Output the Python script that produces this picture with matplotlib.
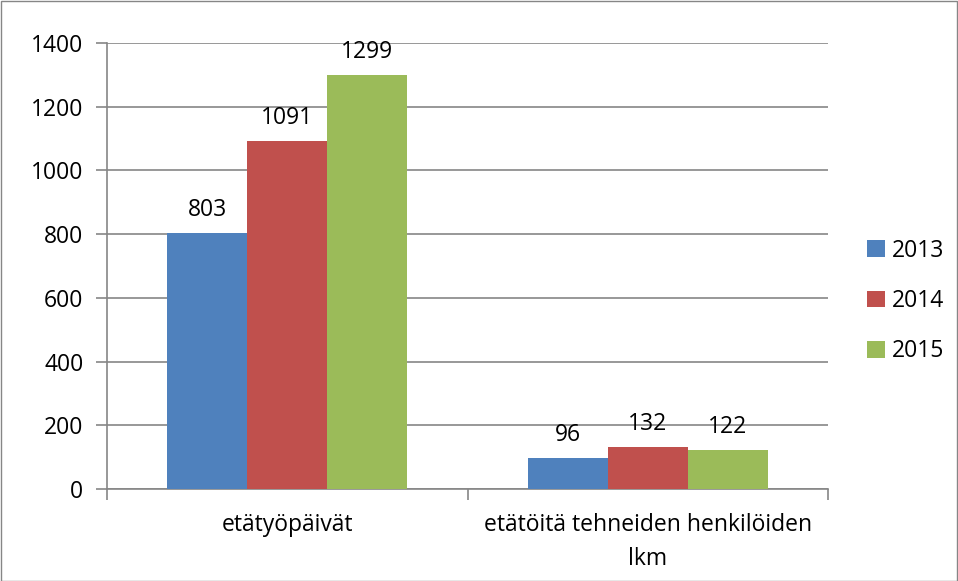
import matplotlib
matplotlib.use("Agg")
import matplotlib.pyplot as plt
import numpy as np
from matplotlib.patches import Rectangle, Patch

categories = ["etätyöpäivät", "etätöitä tehneiden henkilöiden\nlkm"]
years = ["2013", "2014", "2015"]
values = {
    "2013": [803, 96],
    "2014": [1091, 132],
    "2015": [1299, 122],
}
colors = ["#4F81BD", "#C0504D", "#9BBB59"]
yticks = [0, 200, 400, 600, 800, 1000, 1200, 1400]

plt.rcParams['font.family'] = ['Open Sans', 'DejaVu Sans']
FS = 16.5

W, H = 958, 581
fig = plt.figure(figsize=(W / 100, H / 100), dpi=100)
ax = fig.add_axes([107 / W, 1 - 489 / H, (828 - 107) / W, (489 - 43) / H])

grid_c = "#868686"
x = np.arange(len(categories))
bw = 80 / 360
for i, yr in enumerate(years):
    pos = x + (i - 1) * bw
    bars = ax.bar(pos, values[yr], width=bw, color=colors[i], zorder=3, label=yr)
    for b, v in zip(bars, values[yr]):
        ax.annotate(str(v), (b.get_x() + b.get_width() / 2, v),
                    xytext=(0, 12.2), textcoords="offset points",
                    ha="center", va="baseline", fontsize=FS, color="black",
                    zorder=4)

ax.set_xlim(-0.5, 1.5)
ax.set_ylim(0, 1400)
ax.set_yticks(yticks)
ax.set_yticklabels([str(t) for t in yticks], fontsize=FS)
ax.yaxis.grid(True, color=grid_c, linewidth=1.2, zorder=0)
ax.set_axisbelow(True)
ax.tick_params(axis="y", length=8, width=1.2, color=grid_c, pad=9)

ax.set_xticks([-0.5, 0.5, 1.5])
ax.set_xticklabels(["", "", ""])
ax.set_xticks(x, minor=True)
ax.set_xticklabels(categories, minor=True, fontsize=FS)
ax.tick_params(axis="x", which="major", length=8, width=1.2, color=grid_c)
ax.tick_params(axis="x", which="minor", length=0, pad=17)
for lbl in ax.get_xticklabels(minor=True):
    lbl.set_multialignment("center")
    lbl.set_linespacing(1.55)

for s in ["top", "right"]:
    ax.spines[s].set_visible(False)
ax.spines["left"].set_color(grid_c)
ax.spines["bottom"].set_color(grid_c)
ax.spines["left"].set_linewidth(1.2)
ax.spines["bottom"].set_linewidth(1.2)

handles = [Patch(facecolor=c, edgecolor="none") for c in colors]
fig.legend(handles, years, loc="center left", bbox_to_anchor=(856 / W, 1 - 301 / H),
           frameon=False, fontsize=FS, handlelength=0.75, handleheight=0.75,
           handletextpad=0.3, labelspacing=1.15, borderpad=0)

fig.patches.append(Rectangle((0.5 / W, 0.5 / H), 1 - 1.5 / W, 1 - 1.5 / H,
                             transform=fig.transFigure, fill=False,
                             edgecolor="#868686", linewidth=1))

fig.savefig("out.png", dpi=100)
